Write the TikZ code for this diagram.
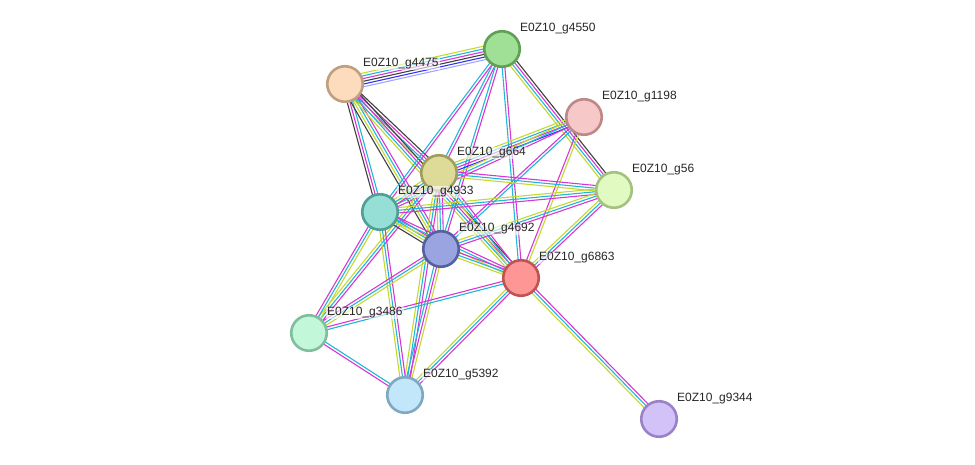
\documentclass[tikz,border=0pt]{standalone}
\usepackage{fontspec}
\setmainfont{Liberation Sans}
\usetikzlibrary{calc,backgrounds}

\definecolor{txtmine}{HTML}{C6D830}
\definecolor{dbase}{HTML}{21B6D8}
\definecolor{expmt}{HTML}{D636D6}
\definecolor{coexp}{HTML}{404040}
\definecolor{fusion}{HTML}{3232F0}
\definecolor{cooc}{HTML}{A4A4FF}
% protein fill / rim colours
\definecolor{f4550}{HTML}{A0E096}\definecolor{d4550}{HTML}{5FA055}
\definecolor{f4475}{HTML}{FDDCBE}\definecolor{d4475}{HTML}{BE9F80}
\definecolor{f1198}{HTML}{F7C8C8}\definecolor{d1198}{HTML}{BC8888}
\definecolor{f664}{HTML}{DEDB98}\definecolor{d664}{HTML}{A09E5E}
\definecolor{f56}{HTML}{E1FAC2}\definecolor{d56}{HTML}{A2C27E}
\definecolor{f4933}{HTML}{96DFD6}\definecolor{d4933}{HTML}{509E96}
\definecolor{f4692}{HTML}{9AA4E0}\definecolor{d4692}{HTML}{5461A0}
\definecolor{f6863}{HTML}{FF9696}\definecolor{d6863}{HTML}{C05454}
\definecolor{f3486}{HTML}{C2F7D9}\definecolor{d3486}{HTML}{80BE9E}
\definecolor{f5392}{HTML}{C2E7FB}\definecolor{d5392}{HTML}{80A8C2}
\definecolor{f9344}{HTML}{D3C2F8}\definecolor{d9344}{HTML}{9A82C8}

% draws one parallel line per colour between two proteins
\newcommand{\strlink}[3]{%
  \gdef\nlines{0}%
  \foreach \c in {#3}{\pgfmathparse{int(\nlines+1)}\xdef\nlines{\pgfmathresult}}%
  \foreach \c [count=\k] in {#3}{%
    \pgfmathsetmacro{\off}{(\k-(\nlines+1)/2)*2.7}%
    \draw[link, \c] ($(#1)!\off pt!90:(#2)$) -- ($(#2)!\off pt!-90:(#1)$);
  }}

\begin{document}
\begin{tikzpicture}[x=1pt,y=-1pt]
  \useasboundingbox (0,0) rectangle (975,465);
  \tikzset{
    protein/.style={circle,line width=2.6pt,minimum size=35.5pt,inner sep=0pt,fill=f#1,draw=d#1},
    plabel/.style={anchor=west,inner xsep=1pt,inner ysep=0.5pt,fill=white,fill opacity=0.6,text opacity=1,
      font=\fontsize{12}{12}\selectfont,text=black!85},
    link/.style={line width=1.1pt},
  }

  %% proteins
  \node [protein=4550] (g4550) at (502,49) {};
  \node [protein=4475] (g4475) at (345,84) {};
  \node [protein=1198] (g1198) at (584,117) {};
  \node [protein=664] (g664) at (439,173) {};
  \node [protein=56] (g56) at (614,190) {};
  \node [protein=4933] (g4933) at (380,212) {};
  \node [protein=4692] (g4692) at (441,249) {};
  \node [protein=6863] (g6863) at (521,278) {};
  \node [protein=3486] (g3486) at (309,333) {};
  \node [protein=5392] (g5392) at (405,395) {};
  \node [protein=9344] (g9344) at (659,419) {};

  %% labels
  \foreach \p in {g4550,g4475,g1198,g664,g56,g4933,g4692,g6863,g3486,g5392,g9344}
    \node [plabel] (l\p) at ($(\p)+(17,-20)$) {E0Z10\_\p};

  %% interactions
  \begin{scope}[on background layer]
    \strlink{g4475}{g4550}{cooc,fusion,coexp,expmt,dbase,txtmine}
    \strlink{g4475}{g664}{txtmine,dbase,expmt,coexp}
    \strlink{g4475}{g4933}{coexp,expmt,dbase}
    \strlink{g4475}{g4692}{coexp,txtmine,dbase,expmt}
    \strlink{g4475}{g6863}{txtmine,dbase,expmt,coexp}
    \strlink{g4550}{g4933}{dbase,expmt}
    \strlink{g4550}{g664}{dbase,expmt}
    \strlink{g4550}{g4692}{dbase,expmt}
    \strlink{g4550}{g6863}{dbase,expmt}
    \strlink{g4550}{g56}{txtmine,dbase,expmt,coexp}
    \strlink{g1198}{g664}{txtmine,dbase,expmt,fusion}
    \strlink{g1198}{g4933}{txtmine,dbase,expmt}
    \strlink{g1198}{g4692}{expmt,dbase}
    \strlink{g1198}{g6863}{expmt,txtmine}
    \strlink{g664}{g56}{txtmine,dbase,expmt}
    \strlink{g664}{g4933}{txtmine,dbase,expmt}
    \strlink{g664}{g4692}{txtmine,dbase,expmt}
    \strlink{g664}{g6863}{txtmine,dbase,expmt}
    \strlink{g664}{g5392}{txtmine,dbase,expmt}
    \strlink{g664}{g3486}{txtmine,dbase,expmt}
    \strlink{g56}{g4933}{txtmine,dbase,expmt}
    \strlink{g56}{g4692}{txtmine,dbase,expmt}
    \strlink{g56}{g6863}{txtmine,dbase,expmt}
    \strlink{g4933}{g4692}{coexp,txtmine,dbase,expmt}
    \strlink{g4933}{g6863}{txtmine,dbase,expmt}
    \strlink{g4933}{g3486}{expmt,dbase,txtmine}
    \strlink{g4933}{g5392}{txtmine,dbase,expmt}
    \strlink{g4692}{g6863}{txtmine,dbase,expmt}
    \strlink{g4692}{g3486}{expmt,dbase,txtmine}
    \strlink{g4692}{g5392}{dbase,expmt,txtmine}
    \strlink{g6863}{g3486}{expmt,dbase}
    \strlink{g6863}{g5392}{txtmine,dbase,expmt}
    \strlink{g6863}{g9344}{txtmine,dbase,expmt}
    \strlink{g3486}{g5392}{expmt,dbase}
  \end{scope}
\end{tikzpicture}
\end{document}
